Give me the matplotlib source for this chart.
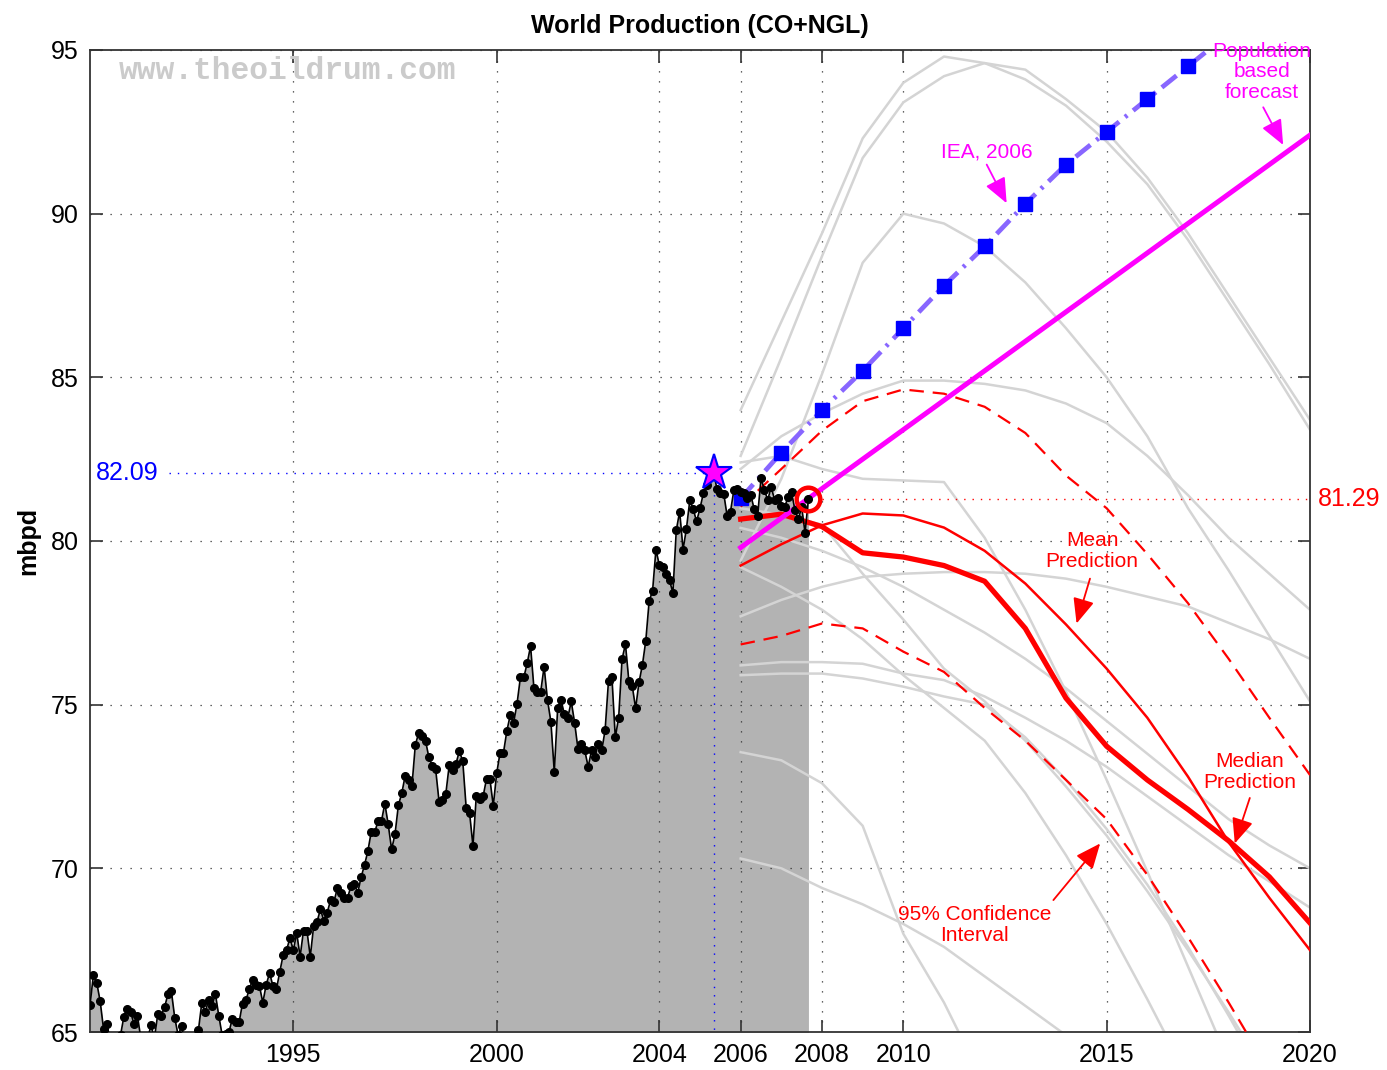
import numpy as np
import matplotlib
matplotlib.use("Agg")
import matplotlib.pyplot as plt

plt.rcParams['font.family'] = ['Liberation Sans', 'DejaVu Sans']

# monthly world production (CO+NGL), Jan 1990 .. Sep 2007, mbpd
production = [
    65.82, 66.74, 66.5, 65.94, 65.09, 65.24, 64.7, 64.6, 64.7, 64.9,
    65.47, 65.7, 65.6, 65.24, 65.5, 64.8, 64.6, 64.8, 65.2, 64.8,
    65.55, 65.5, 65.75, 66.16, 66.25, 65.44, 64.9, 65.17, 64.7, 64.5,
    64.6, 64.8, 65.06, 65.9, 65.6, 65.97, 65.8, 66.16, 65.5, 64.9,
    64.95, 65.0, 65.4, 65.3, 65.3, 65.87, 65.97, 66.3, 66.6, 66.45,
    66.4, 65.9, 66.45, 66.8, 66.4, 66.3, 66.84, 67.35, 67.5, 67.87,
    67.5, 68.02, 67.3, 68.1, 68.1, 67.3, 68.24, 68.37, 68.75, 68.4,
    68.65, 69.03, 68.98, 69.4, 69.25, 69.1, 69.1, 69.45, 69.53, 69.25,
    69.73, 70.1, 70.53, 71.12, 71.1, 71.44, 71.44, 71.98, 71.34, 70.58,
    71.04, 71.93, 72.29, 72.83, 72.7, 72.52, 73.77, 74.14, 74.04, 73.9,
    73.39, 73.14, 73.02, 72.04, 72.1, 72.28, 73.15, 73.0, 73.2, 73.58,
    73.27, 71.85, 71.7, 70.69, 72.22, 72.12, 72.2, 72.73, 72.73, 71.91,
    72.9, 73.53, 73.53, 74.19, 74.68, 74.45, 75.02, 75.83, 75.83, 76.26,
    76.79, 75.5, 75.4, 75.4, 76.16, 75.14, 74.48, 72.95, 74.89, 75.14,
    74.7, 74.6, 75.1, 74.45, 73.64, 73.8, 73.6, 73.1, 73.6, 73.4,
    73.8, 73.6, 74.22, 75.73, 75.86, 74.0, 74.6, 76.39, 76.85, 75.73,
    75.58, 74.89, 75.68, 76.21, 76.95, 78.17, 78.47, 79.74, 79.26, 79.2,
    79.0, 78.8, 78.42, 80.33, 80.9, 79.74, 80.38, 81.25, 80.97, 80.6,
    81.0, 81.46, 81.71, 81.96, 82.09, 81.6, 81.46, 81.45, 80.77, 80.9,
    81.56, 81.6, 81.5, 81.46, 81.3, 81.4, 80.97, 80.77, 81.91, 81.56,
    81.25, 81.66, 81.25, 81.3, 81.06, 81.04, 81.35, 81.5, 80.95, 80.66,
    81.04, 80.25, 81.29,
]
start_year = 1990

peak_year, peak_val = 2005 + 4 / 12, 82.09
last_year, last_val = 2007 + 8 / 12, 81.29

# forecasts, one value per year 2006..2020
fc_years = list(range(2006, 2021))
nan = np.nan
grey_runs = [
    [84.0, 86.7, 89.4, 92.3, 94.0, 94.8, 94.6, 94.4, 93.5, 92.5, 91.1, 89.4, 87.5, 85.6, 83.7],
    [82.6, 85.6, 88.7, 91.7, 93.4, 94.2, 94.6, 94.1, 93.3, 92.2, 90.9, 89.2, 87.3, 85.4, 83.4],
    [79.4, 81.9, 85.1, 88.5, 90.0, 89.7, 89.0, 87.9, 86.5, 85.0, 83.2, 81.0, 79.1, 77.1, 75.1],
    [82.2, 83.2, 83.9, 84.5, 84.9, 84.9, 84.8, 84.6, 84.2, 83.6, 82.6, 81.4, 80.1, 79.0, 77.9],
    [82.4, 82.6, 82.2, 81.9, 81.85, 81.8, 80.1, 77.9, 75.4, 72.7, 69.9, 67.0, 64.1, nan, nan],
    [80.4, 80.1, 79.7, 79.2, 78.6, 77.9, 77.2, 76.4, 75.5, 74.5, 73.5, 72.5, 71.5, 70.7, 70.0],
    [81.0, 80.8, 80.5, 79.0, 77.6, 76.1, 75.1, 73.9, 72.5, 71.0, 69.3, 67.5, 65.6, 63.6, nan],
    [79.2, 78.6, 77.9, 77.0, 75.9, 74.9, 73.9, 72.3, 70.4, 68.3, 66.0, 63.6, nan, nan, nan],
    [77.7, 78.2, 78.6, 78.9, 79.0, 79.05, 79.05, 79.0, 78.85, 78.6, 78.3, 78.0, 77.5, 77.0, 76.4],
    [76.2, 76.3, 76.3, 76.25, 75.95, 75.75, 75.25, 74.6, 73.9, 73.1, 72.2, 71.3, 70.4, 69.6, 68.8],
    [75.9, 75.95, 75.95, 75.8, 75.55, 75.25, 75.0, 74.0, 72.7, 71.2, 69.5, 67.6, 65.5, 63.3, nan],
    [73.55, 73.3, 72.6, 71.3, 68.0, 65.9, 63.4, nan, nan, nan, nan, nan, nan, nan, nan],
    [70.3, 70.0, 69.4, 68.9, 68.3, 67.6, 66.7, 65.8, 64.9, 63.9, nan, nan, nan, nan, nan],
]
mean_pred = [79.25, 79.9, 80.48, 80.84, 80.78, 80.41, 79.7, 78.7, 77.45, 76.1, 74.6, 72.8, 70.8, 69.1, 67.5]
median_pred = [80.67, 80.82, 80.44, 79.64, 79.51, 79.25, 78.77, 77.33, 75.2, 73.73, 72.7, 71.8, 70.84, 69.74, 68.33]
ci_upper = [81.05, 82.2, 83.37, 84.27, 84.63, 84.5, 84.1, 83.3, 82.0, 81.0, 79.6, 78.1, 76.4, 74.6, 72.85]
ci_lower = [76.84, 77.1, 77.48, 77.33, 76.62, 76.0, 74.9, 73.9, 72.7, 71.5, 69.8, 67.9, 65.9, 63.8, 61.6]

iea_years = list(range(2006, 2019))
iea_vals = [81.3, 82.7, 84.0, 85.2, 86.5, 87.8, 89.0, 90.3, 91.5, 92.5, 93.5, 94.5, 95.5]

pop_years = [2006, 2020]
pop_vals = [79.8, 92.4]

xticks = [1995, 2000, 2004, 2006, 2008, 2010, 2015, 2020]
yticks = [65, 70, 75, 80, 85, 90, 95]

t = start_year + np.arange(len(production)) / 12.0

fig = plt.figure(figsize=(13.87, 10.70), dpi=100)
ax = fig.add_axes([90 / 1387, 38 / 1070, 1220 / 1387, 982 / 1070])

ax.fill_between(t, 50, production, color='#b3b3b3', lw=0, zorder=1)

for run in grey_runs:
    ax.plot(fc_years, run, color='#d4d4d4', lw=1.8, zorder=2)

ax.plot(fc_years, ci_upper, color='red', lw=1.6, ls=(0, (6.5, 4)), zorder=3)
ax.plot(fc_years, ci_lower, color='red', lw=1.6, ls=(0, (6.5, 4)), zorder=3)
ax.plot(fc_years, mean_pred, color='red', lw=1.8, zorder=3)
ax.plot(fc_years, median_pred, color='red', lw=3.8, zorder=3)

ax.plot(pop_years, pop_vals, color='#ff00ff', lw=3.6, zorder=3)
ax.plot(iea_years, iea_vals, color='#8866ff', lw=3.4, ls=(0, (4, 1.6, 0.6, 1.6)), zorder=3)
ax.plot(iea_years[:-1], iea_vals[:-1], ls='none', marker='s', ms=10,
        mfc='#0000ff', mec='#0000ff', zorder=4)

# peak and last value markers
ax.plot([1991.95, peak_year], [peak_val, peak_val], color='blue', lw=1, ls=(0, (1, 5)), zorder=3)
ax.plot([peak_year, peak_year], [60, peak_val], color='blue', lw=1, ls=(0, (1, 5)), zorder=3)
ax.plot([2008.0, 2020], [last_val, last_val], color='red', lw=1, ls=(0, (1, 5)), zorder=3)

ax.plot(t, production, color='black', lw=1.2, marker='o', ms=5.5, zorder=5)
ax.plot(peak_year, peak_val, marker='*', ms=27, mfc='#ff00ff', mec='blue', mew=1.5, zorder=6)
ax.plot(last_year, last_val, marker='o', ms=17, mfc='none', mec='red', mew=3.2, zorder=6)

ax.text(1990.15, peak_val, '82.09', color='blue', fontsize=18, va='center', ha='left')
ax.text(2020.2, last_val, '81.29', color='red', fontsize=18, va='center', ha='left', clip_on=False)

ax.text(1990.7, 94.35, 'www.theoildrum.com', family='Liberation Mono', weight='bold',
        fontsize=22.5, color='#cbcbcb', va='center', ha='left')

# annotations
def note(txt, pos, tail, head, color):
    ax.text(pos[0], pos[1], txt, color=color, fontsize=15, ha='center', va='center',
            linespacing=1.1, zorder=7)
    ax.annotate('', xy=head, xytext=tail,
                arrowprops=dict(arrowstyle='-|>,head_length=0.7,head_width=0.3',
                                mutation_scale=22, color=color, lw=1.3,
                                shrinkA=0, shrinkB=0), zorder=7)

note('Mean\nPrediction', (2014.64, 79.7), (2014.59, 78.85), (2014.26, 77.48), 'red')
note('Median\nPrediction', (2018.52, 72.94), (2018.52, 72.15), (2018.15, 70.76), 'red')
note('95% Confidence\nInterval', (2011.76, 68.27), (2013.69, 69.03), (2014.84, 70.76), 'red')
note('IEA, 2006', (2012.06, 91.88), (2012.05, 91.5), (2012.54, 90.32), '#ff00ff')
note('Population\nbased\nforecast', (2018.82, 94.33), (2018.85, 93.25), (2019.34, 92.1), '#ff00ff')

ax.set_xlim(1990, 2020)
ax.set_ylim(65, 95)
ax.set_xticks(xticks)
ax.set_yticks(yticks)
ax.tick_params(direction='in', length=9, width=1.2, top=True, right=True,
               labelsize=18, pad=8, color='#333333')
ax.grid(True, color='0.2', lw=0.9, ls=(0, (1, 7)))
ax.set_axisbelow('line')
for s in ax.spines.values():
    s.set_linewidth(1.3)
    s.set_color('#333333')

ax.set_title('World Production (CO+NGL)', fontsize=18, fontweight='bold', pad=12)
ax.set_ylabel('mbpd', fontsize=18, fontweight='bold', labelpad=8)

fig.savefig('out.png', dpi=100)
